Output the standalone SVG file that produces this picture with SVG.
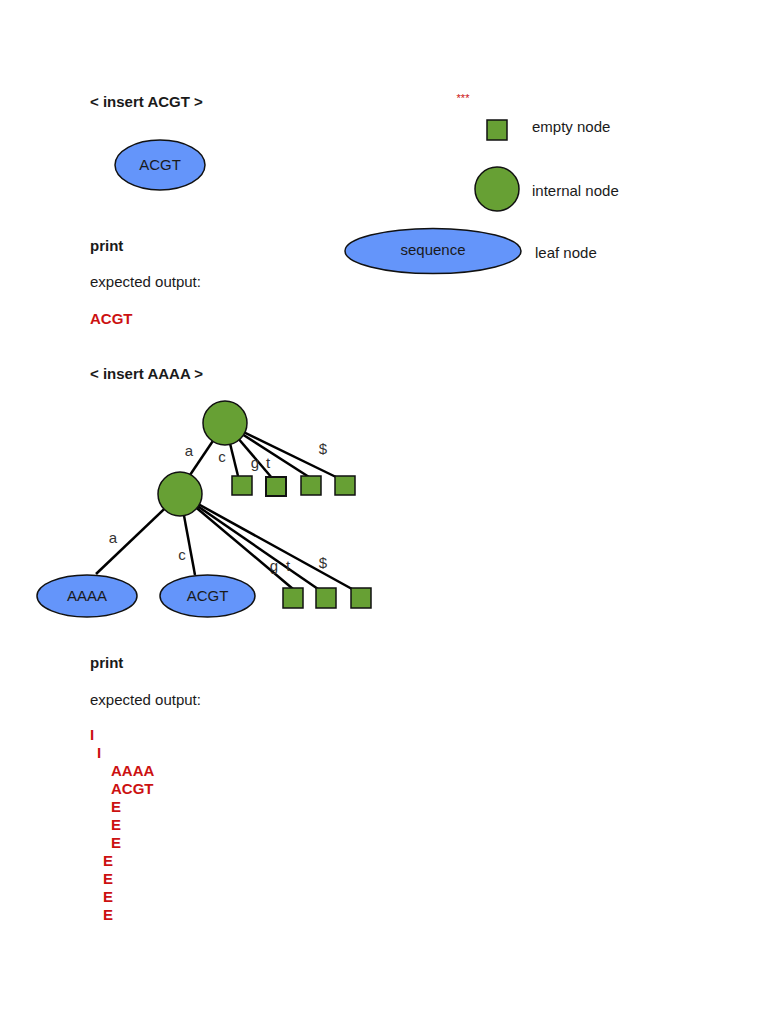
<svg xmlns="http://www.w3.org/2000/svg" width="768" height="1024" viewBox="0 0 768 1024">
<style>
text{font-family:"Liberation Sans",Arial,sans-serif;font-size:15px;fill:#1a1a1a}
.b{font-weight:bold}
.r{fill:#cc1111;font-weight:bold}
.leaf{fill:#6495fa;stroke:#111;stroke-width:1.5}
.int{fill:#67a034;stroke:#111;stroke-width:1.5}
.emp{fill:#67a034;stroke:#111;stroke-width:1.5}
.c{stroke:#000;stroke-width:2.5;fill:none}
.lbl{fill:#333}
.mid{text-anchor:middle}
</style>
<rect width="768" height="1024" fill="#fff"/>

<text x="90" y="107" class="b">&lt; insert ACGT &gt;</text>
<g id="leaf-acgt-1"><ellipse cx="160" cy="165" rx="45" ry="25" class="leaf"/><text x="160" y="170" class="mid">ACGT</text></g>
<text x="90" y="251" class="b">print</text>
<text x="90" y="287">expected output:</text>
<text x="90" y="324" class="r">ACGT</text>

<g id="legend">
<text x="463" y="102" class="mid" style="fill:#cc1111;font-size:11px">***</text>
<g id="legend-empty"><rect x="487" y="120" width="20" height="20" class="emp"/><text x="532" y="132">empty node</text></g>
<g id="legend-internal"><circle cx="497" cy="189" r="22" class="int"/><text x="532" y="196">internal node</text></g>
<g id="legend-leaf"><ellipse cx="433" cy="251" rx="88" ry="22.5" class="leaf"/><text x="433" y="255" class="mid">sequence</text><text x="535" y="258">leaf node</text></g>
</g>

<text x="90" y="379" class="b">&lt; insert AAAA &gt;</text>

<g id="connectors">
<line x1="225" y1="423" x2="190" y2="475" class="c"/>
<line x1="225" y1="423" x2="238" y2="476" class="c"/>
<line x1="225" y1="423" x2="272" y2="478" class="c"/>
<line x1="225" y1="423" x2="309" y2="477" class="c"/>
<line x1="225" y1="423" x2="336" y2="477" class="c"/>
<line x1="180" y1="494" x2="96" y2="574" class="c"/>
<line x1="180" y1="494" x2="195" y2="575" class="c"/>
<line x1="180" y1="494" x2="293" y2="589" class="c"/>
<line x1="180" y1="494" x2="318" y2="589" class="c"/>
<line x1="180" y1="494" x2="352" y2="589" class="c"/>
<text x="189" y="456" class="lbl mid">a</text>
<text x="222" y="462" class="lbl mid">c</text>
<text x="255" y="468" class="lbl mid">g</text>
<text x="268" y="468" class="lbl mid">t</text>
<text x="323" y="454" class="lbl mid">$</text>
<text x="113" y="543" class="lbl mid">a</text>
<text x="182" y="560" class="lbl mid">c</text>
<text x="274" y="571" class="lbl mid">g</text>
<text x="288" y="571" class="lbl mid">t</text>
<text x="323" y="568" class="lbl mid">$</text>
</g>

<g id="internal-root"><circle cx="225" cy="423" r="22" class="int"/></g>
<g id="internal-a"><circle cx="180" cy="494" r="22" class="int"/></g>
<g id="empty-c"><rect x="232" y="476" width="20" height="19" class="emp"/></g>
<g id="empty-g"><rect x="266" y="477" width="20" height="19" class="emp" style="stroke-width:2"/></g>
<g id="empty-t"><rect x="301" y="476" width="20" height="19" class="emp"/></g>
<g id="empty-dollar"><rect x="335" y="476" width="20" height="19" class="emp"/></g>
<g id="leaf-aaaa"><ellipse cx="87" cy="596" rx="50" ry="21" class="leaf"/><text x="87" y="601" class="mid">AAAA</text></g>
<g id="leaf-acgt-2"><ellipse cx="207.5" cy="596" rx="47.5" ry="21" class="leaf"/><text x="207.5" y="601" class="mid">ACGT</text></g>
<g id="empty-ac"><rect x="283" y="588" width="20" height="20" class="emp"/></g>
<g id="empty-ag"><rect x="316" y="588" width="20" height="20" class="emp"/></g>
<g id="empty-at"><rect x="351" y="588" width="20" height="20" class="emp"/></g>

<text x="90" y="668" class="b">print</text>
<text x="90" y="705">expected output:</text>
<text x="90" y="740" class="r">I</text>
<text x="97" y="758" class="r">I</text>
<text x="111" y="776" class="r">AAAA</text>
<text x="111" y="794" class="r">ACGT</text>
<text x="111" y="812" class="r">E</text>
<text x="111" y="830" class="r">E</text>
<text x="111" y="848" class="r">E</text>
<text x="103" y="866" class="r">E</text>
<text x="103" y="884" class="r">E</text>
<text x="103" y="902" class="r">E</text>
<text x="103" y="920" class="r">E</text>
</svg>
